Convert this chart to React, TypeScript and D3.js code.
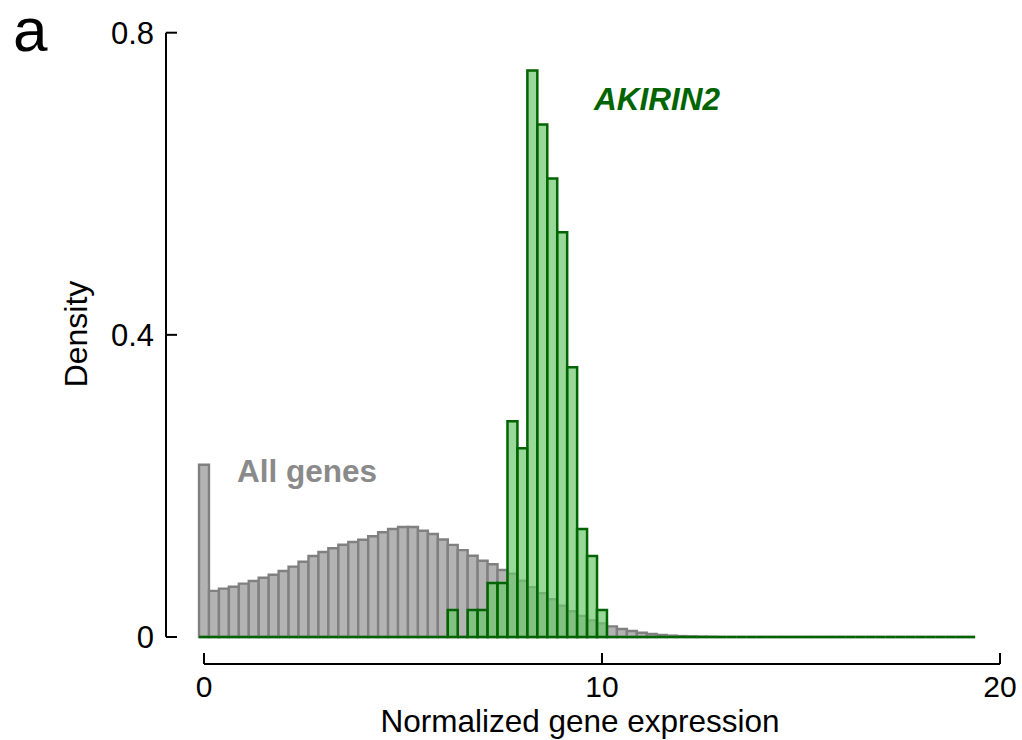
import React from "react";
import * as d3 from "d3";

// Histogram bins: centred on multiples of 0.25, first bin centred on 0
const BIN_WIDTH = 0.25;
const BIN_START = -0.125;
const BIN_COUNT = 78;

// Density of all genes per bin (bins 0..51; remaining bins are empty)
const allGenesDensity = [
  0.228, 0.061, 0.064, 0.0666, 0.0706, 0.0741, 0.0785, 0.0825, 0.0874, 0.0931,
  0.0997, 0.1072, 0.1125, 0.1174, 0.1222, 0.1258, 0.1288, 0.1333, 0.1386, 0.143,
  0.1456, 0.1456, 0.1407, 0.1363, 0.129, 0.122, 0.115, 0.1075, 0.101, 0.0964,
  0.0887, 0.0837, 0.0745, 0.066, 0.058, 0.05, 0.0416, 0.034, 0.028, 0.022,
  0.018, 0.014, 0.0106, 0.008, 0.0057, 0.004, 0.0027, 0.0018, 0.0012, 0.0008,
  0.0005, 0.0003,
];

// Density of AKIRIN2 per bin (bins 25..40; others are empty)
const akirinFirstBin = 25;
const akirinDensity = [
  0.0357, 0, 0.0357, 0.0357, 0.0714, 0.0714, 0.2857, 0.25, 0.75, 0.6786,
  0.6071, 0.5357, 0.3571, 0.1429, 0.1071, 0.0357,
];

const xTicks = [0, 10, 20];
const yTicks = [0, 0.4, 0.8];

const FONT = "'Liberation Sans', Arial, Helvetica, sans-serif";

function binValues(values: number[], offset: number): number[] {
  const out = new Array(BIN_COUNT).fill(0);
  values.forEach((v, i) => {
    out[i + offset] = v;
  });
  return out;
}

export default function App() {
  const x = d3.scaleLinear().domain([0, 20]).range([204, 1000]);
  const y = d3.scaleLinear().domain([0, 0.8]).range([637, 32.7]);

  const barPath = (i: number, v: number) => {
    const x0 = x(BIN_START + i * BIN_WIDTH);
    const x1 = x(BIN_START + (i + 1) * BIN_WIDTH);
    const p = d3.path();
    p.moveTo(x0, y(0));
    p.lineTo(x0, y(v));
    p.lineTo(x1, y(v));
    p.lineTo(x1, y(0));
    p.closePath();
    return p.toString();
  };

  const gray = binValues(allGenesDensity, 0);
  const green = binValues(akirinDensity, akirinFirstBin);

  const yAxisX = 166;
  const xAxisY = 664;
  const tickLen = 11;

  return (
    <svg
      width={1022}
      height={740}
      style={{ position: "absolute", left: 0, top: 0, background: "#fff" }}
      fontFamily={FONT}
    >
      {/* all genes */}
      <g fill="#b3b3b3" stroke="#808080" strokeWidth={2.4}>
        {gray.map((v, i) => (
          <path key={i} d={barPath(i, v)} />
        ))}
      </g>
      {/* AKIRIN2 */}
      <g fill="rgb(110,200,110)" fillOpacity={0.7} stroke="#006400" strokeWidth={2.5}>
        {green.map((v, i) => (
          <path key={i} d={barPath(i, v)} />
        ))}
      </g>

      {/* y axis */}
      <g stroke="#000" strokeWidth={2} fill="none">
        <line x1={yAxisX} x2={yAxisX} y1={y(0.8)} y2={y(0)} />
        {yTicks.map((t) => (
          <line key={t} x1={yAxisX} x2={yAxisX + tickLen} y1={y(t)} y2={y(t)} />
        ))}
      </g>
      {yTicks.map((t) => (
        <text
          key={t}
          x={154}
          y={y(t) + 11}
          textAnchor="end"
          fontSize={31}
          fill="#000"
        >
          {d3.format("~g")(t)}
        </text>
      ))}

      {/* x axis */}
      <g stroke="#000" strokeWidth={2} fill="none">
        <line x1={x(0)} x2={x(20)} y1={xAxisY} y2={xAxisY} />
        {xTicks.map((t) => (
          <line key={t} x1={x(t)} x2={x(t)} y1={xAxisY} y2={xAxisY - tickLen} />
        ))}
      </g>
      {xTicks.map((t) => (
        <text key={t} x={x(t)} y={697} textAnchor="middle" fontSize={30} fill="#000">
          {t}
        </text>
      ))}

      {/* axis titles */}
      <text x={580} y={731.5} textAnchor="middle" fontSize={31.5} fill="#000">
        Normalized gene expression
      </text>
      <text
        transform="translate(87,334) rotate(-90)"
        textAnchor="middle"
        fontSize={32}
        fill="#000"
      >
        Density
      </text>

      {/* series labels */}
      <text x={237} y={482} fontSize={31.5} fontWeight="bold" fill="#8a8a8a">
        All genes
      </text>
      <text
        x={594}
        y={110}
        fontSize={31.5}
        fontWeight="bold"
        fontStyle="italic"
        fill="#006400"
      >
        AKIRIN2
      </text>

      {/* panel letter */}
      <text x={13} y={51} fontSize={62} fill="#000">
        a
      </text>
    </svg>
  );
}
